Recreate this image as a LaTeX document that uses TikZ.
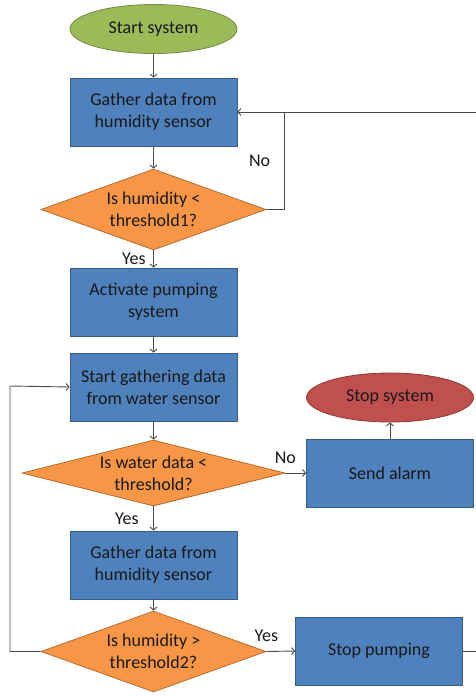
\documentclass[tikz,border=0pt]{standalone}
\usepackage{fontspec}
\setmainfont{Carlito}
\usetikzlibrary{shapes.geometric,arrows.meta}

\definecolor{startgreen}{HTML}{9BBB59}
\definecolor{startedge}{HTML}{71893F}
\definecolor{stepblue}{HTML}{4F81BD}
\definecolor{stepedge}{HTML}{385D8A}
\definecolor{askorange}{HTML}{F79646}
\definecolor{askedge}{HTML}{B66D31}
\definecolor{stopred}{HTML}{C0504D}
\definecolor{stopedge}{HTML}{8C3836}
\definecolor{wire}{HTML}{4A4A4A}

\begin{document}
\begin{tikzpicture}[x=1pt,y=-1pt,
    every node/.style={font=\fontsize{18}{22}\selectfont,text=black!90},
    terminal/.style={ellipse,line width=0.8pt,minimum width=167pt,minimum height=49pt,inner sep=0pt},
    process/.style={rectangle,draw=stepedge,fill=stepblue,line width=0.8pt,minimum width=167pt,minimum height=68pt,align=center,inner sep=0pt},
    decision/.style={diamond,draw=askedge,fill=askorange,line width=0.8pt,align=center,inner sep=0pt}]
  \useasboundingbox (0,0) rectangle (476,696);
  \path
    (153.5,29) node[terminal,draw=startedge,fill=startgreen] (start){Start system}
    (153.5,112) node[process] (sense1){Gather data from\\humidity sensor}
    (153.5,209.5) node[decision,minimum width=225pt,minimum height=81pt,shape aspect=2.78] (check1){Is humidity <\\threshold1?}
    (153.5,302) node[process] (activate){Activate pumping\\system}
    (153.5,387) node[process] (startwater){Start gathering data\\from water sensor}
    (153.5,473) node[decision,minimum width=263pt,minimum height=66pt,shape aspect=3.9] (check2){Is water data <\\threshold?}
    (153.5,565) node[process] (sense2){Gather data from\\humidity sensor}
    (153.5,651.5) node[decision,minimum width=225pt,minimum height=81pt,shape aspect=2.78] (check3){Is humidity >\\threshold2?}
    (390,397.5) node[terminal,draw=stopedge,fill=stopred] (stopsys){Stop system}
    (390,473) node[process] (alarm){Send alarm}
    (379,651) node[process] (stoppump){Stop pumping};
  \coordinate (loopA) at (284,112);
  \coordinate (loopB) at (480,112);
  \coordinate (loopC) at (10,386);
  \begin{scope}[draw=wire,line width=0.9pt,-{Straight Barb[length=3pt,width=7pt]}]
    \draw (start) -- (sense1);
    \draw (sense1) -- (check1);
    \draw (check1.east) -| node[pos=0.75,left=10pt]{No} (loopA) -- (sense1.east);
    \draw (check1) -- node[left=4pt]{Yes} (activate);
    \draw (activate) -- (startwater);
    \draw (startwater) -- (check2);
    \draw (check2.east) -- node[pos=0,above=6pt]{No} (alarm.west);
    \draw (alarm) -- (stopsys);
    \draw (check2) -- node[left=11pt]{Yes} (sense2);
    \draw (sense2) -- (check3);
    \draw (check3.east) -- node[pos=0,above=6pt]{Yes} (stoppump.west);
    \draw (check3.west) -| (loopC) -- (startwater.west);
    \draw[-] (stoppump.east) -| (loopB) -- (loopA);
  \end{scope}
\end{tikzpicture}
\end{document}
